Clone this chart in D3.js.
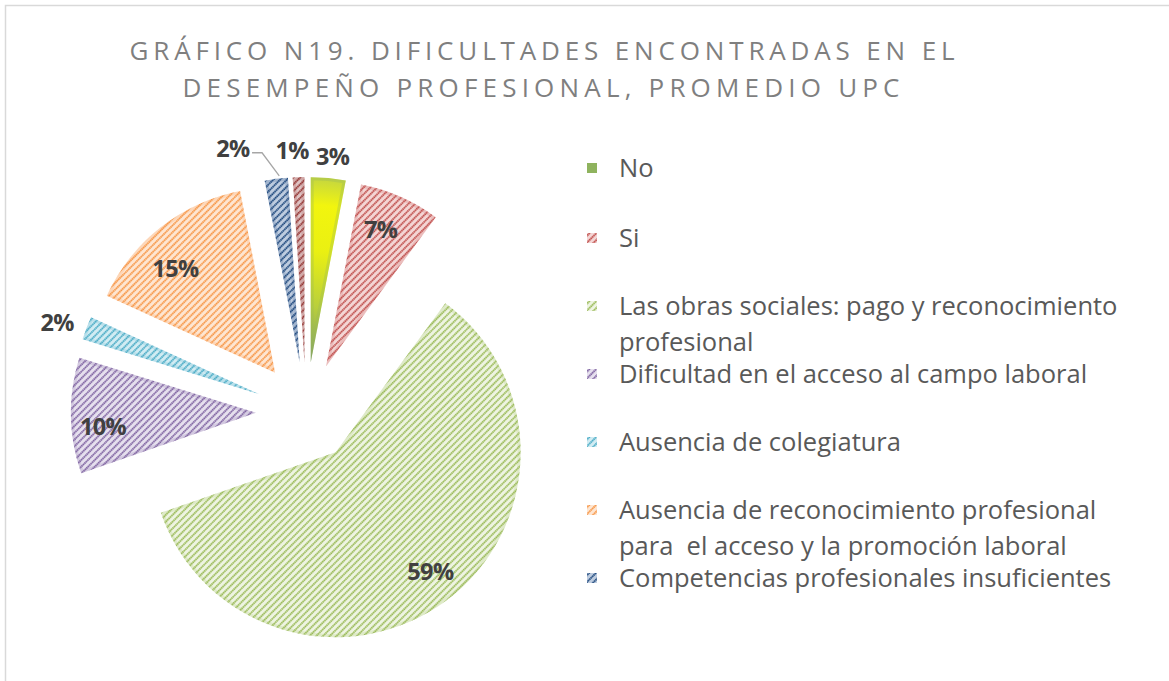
<!DOCTYPE html>
<html><head><meta charset="utf-8">
<script src="https://cdn.jsdelivr.net/npm/d3@7"></script>
<style>html,body{margin:0;padding:0;background:#fff;}svg{display:block;}text{white-space:pre;}</style>
</head><body>
<svg id="chart" width="1169" height="681"></svg>
<script>
// ---- data ----
const categories = [
  "No",
  "Si",
  "Las obras sociales: pago y reconocimiento profesional",
  "Dificultad en el acceso al campo laboral",
  "Ausencia de colegiatura",
  "Ausencia de reconocimiento profesional para  el acceso y la promoción laboral",
  "Competencias profesionales insuficientes",
  "Otros"
];
const values = [3, 7, 59, 10, 2, 15, 2, 1];
const valueLabels = ["3%", "7%", "59%", "10%", "2%", "15%", "2%", "1%"];
const legendLines = [
  ["No"],
  ["Si"],
  ["Las obras sociales: pago y reconocimiento", "profesional"],
  ["Dificultad en el acceso al campo laboral"],
  ["Ausencia de colegiatura"],
  ["Ausencia de reconocimiento profesional", "para  el acceso y la promoción laboral"],
  ["Competencias profesionales insuficientes"]
];
const titleLines = ["GRÁFICO N19. DIFICULTADES ENCONTRADAS EN EL", "DESEMPEÑO PROFESIONAL, PROMEDIO UPC"];

// ---- styles ----
const lineColors = ["#9bbb59", "#c0504d", "#9bbb59", "#8064a2", "#4bacc6", "#f79646", "#1f497d", "#943634"];
const bgColors   = ["#9bbb59", "#f4d6d5", "#eef4e2", "#e6e0ee", "#d2ecf3", "#fee6d2", "#bfcde0", "#dfc3c3"];
const solid      = [true, false, false, false, false, false, false, false];
const labelRF    = [1.12, 0.80, 0.82, 0.83, 1.16, 0.78, 1.215, 1.15];
const labelDA    = [0.6, -2, -2.3, -4, -1.3, -5.5, -10, -1.5];
const leader     = [false, false, false, false, false, false, true, false];

const svg = d3.select("#chart");
const cx = 306, cy = 412, R = 185, explode = 50;

// border
svg.append("rect").attr("x", 5.5).attr("y", 5.5).attr("width", 1300).attr("height", 800)
  .attr("fill", "none").attr("stroke", "#d9d9d9").attr("stroke-width", 1.5);

const defs = svg.append("defs");
const PW = 4.8;
lineColors.forEach((c, i) => {
  const p = defs.append("pattern").attr("id", "pat" + i)
    .attr("patternUnits", "userSpaceOnUse").attr("width", PW).attr("height", 8)
    .attr("patternTransform", "rotate(45)");
  p.append("rect").attr("width", PW).attr("height", 8).attr("fill", bgColors[i]);
  p.append("line").attr("x1", 1).attr("x2", 1).attr("y1", 0).attr("y2", 8)
    .attr("stroke", c).attr("stroke-width", 1.9).attr("stroke-dasharray", "1.6,0.4");
});

// ---- pie ----
const pie = d3.pie().sort(null).value(d => d).startAngle(0).endAngle(2 * Math.PI);
const arcs = pie(values);
const arc = d3.arc().innerRadius(0).outerRadius(R);
const dir = a => [Math.sin(a), -Math.cos(a)];

const g = svg.append("g");
arcs.forEach((a, i) => {
  const mid = (a.startAngle + a.endAngle) / 2;
  const [dx, dy] = dir(mid);
  const sx = cx + explode * dx, sy = cy + explode * dy;
  const sg = g.append("g").attr("transform", `translate(${sx},${sy})`);
  let fill;
  if (solid[i]) {
    const gr = defs.append("radialGradient").attr("id", "grad" + i)
      .attr("gradientUnits", "userSpaceOnUse").attr("cx", 0).attr("cy", 0).attr("r", R)
      .attr("fx", 0).attr("fy", 0);
    gr.append("stop").attr("offset", "0").attr("stop-color", "#7a9a6a");
    gr.append("stop").attr("offset", "0.3").attr("stop-color", "#b9cf3c");
    gr.append("stop").attr("offset", "0.6").attr("stop-color", "#eaf012");
    gr.append("stop").attr("offset", "0.85").attr("stop-color", "#f2f50e");
    gr.append("stop").attr("offset", "1").attr("stop-color", "#c4d640");
    fill = "url(#grad" + i + ")";
  } else {
    fill = "url(#pat" + i + ")";
  }
  const d = arc(a);
  defs.append("clipPath").attr("id", "clip" + i)
    .append("path").attr("d", d).attr("transform", `translate(${sx},${sy})`);
  sg.append("path").attr("d", d).attr("fill", fill);
});
// soft inner edges
arcs.forEach((a, i) => {
  const mid = (a.startAngle + a.endAngle) / 2;
  const [dx, dy] = dir(mid);
  const sx = cx + explode * dx, sy = cy + explode * dy;
  g.append("g").attr("clip-path", `url(#clip${i})`)
    .append("path").attr("d", arc(a)).attr("transform", `translate(${sx},${sy})`)
    .attr("fill", "none").attr("stroke", solid[i] ? "#9bbb59" : lineColors[i])
    .attr("stroke-opacity", solid[i] ? 0.35 : 0.18).attr("stroke-width", 6);
});

// ---- labels ----
arcs.forEach((a, i) => {
  const mid = (a.startAngle + a.endAngle) / 2;
  const [dx, dy] = dir(mid);
  const sx = cx + explode * dx, sy = cy + explode * dy;
  const la = mid + labelDA[i] * Math.PI / 180;
  const [lx, ly] = dir(la);
  const x = sx + R * labelRF[i] * lx, y = sy + R * labelRF[i] * ly;
  const t = svg.append("text").attr("x", x).attr("y", y)
    .attr("text-anchor", "middle").attr("dominant-baseline", "central")
    .attr("font-family", "Open Sans, sans-serif").attr("font-weight", 700)
    .attr("font-size", 23.5).attr("letter-spacing", -0.6).attr("fill", "#404040")
    .text(valueLabels[i]);
  if (leader[i]) {
    const bb = t.node().getBBox();
    const ex = sx + R * dx, ey = sy + R * dy;
    const x0 = bb.x + bb.width + 2, yy = y + 5;
    svg.append("polyline")
      .attr("points", `${x0},${yy} ${x0 + 10},${yy} ${ex + 3},${ey - 3}`)
      .attr("fill", "none").attr("stroke", "#a6a6a6").attr("stroke-width", 1.3);
  }
});

// ---- title ----
const titleCenters = [542, 541], titleLens = [825, 717], titleY = [60, 97];
titleLines.forEach((s, i) => {
  svg.append("text").attr("x", titleCenters[i]).attr("y", titleY[i])
    .attr("text-anchor", "middle").attr("font-family", "Open Sans, sans-serif")
    .attr("font-size", 26).attr("fill", "#7f7f7f")
    .attr("textLength", titleLens[i]).attr("lengthAdjust", "spacing")
    .text(s);
});

// ---- legend ----
const legendY = [168, 238, 306, 374, 442, 510, 578];
const lg = svg.append("g");
legendLines.forEach((lines, i) => {
  const y = legendY[i];
  lg.append("rect").attr("x", 587).attr("y", y - 5).attr("width", 10).attr("height", 10)
    .attr("fill", solid[i] ? "#8fb35e" : `url(#pat${i})`);
  lines.forEach((s, j) => {
    lg.append("text").attr("x", 619).attr("y", y + 9 + j * 36)
      .attr("font-family", "Open Sans, sans-serif").attr("font-size", 25.5)
      .attr("fill", "#595959").text(s);
  });
});
</script>
</body></html>
